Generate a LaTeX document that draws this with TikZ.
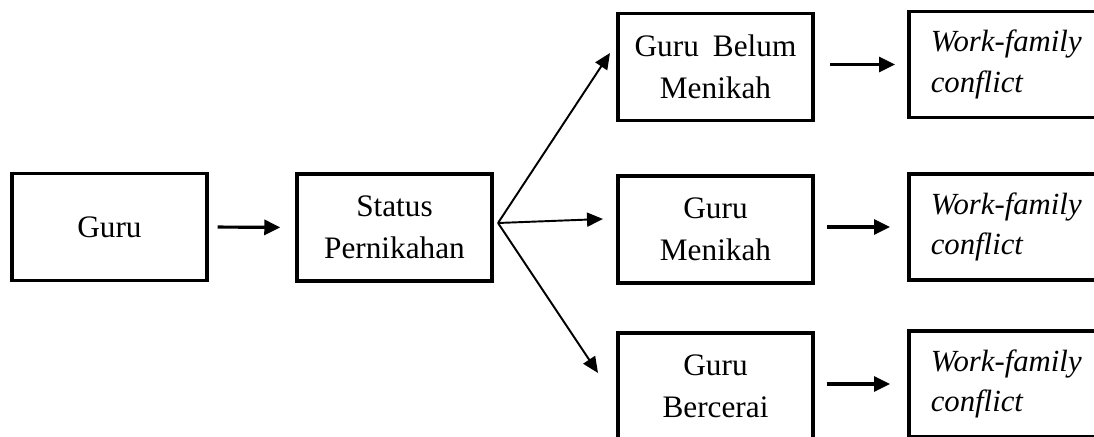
\documentclass[tikz,border=0pt]{standalone}
\usepackage{fontspec}
\setmainfont{Liberation Serif}
\usetikzlibrary{arrows.meta}
\tikzset{
  box/.style={draw,line width=2pt,minimum width=3.9cm,minimum height=2.14cm,align=center,inner sep=0pt},
  outbox/.style={draw,line width=2pt,anchor=west,text width=3.6cm,minimum height=2.12cm,align=left,inner xsep=0.44cm,font=\fontsize{17.5}{23}\selectfont\itshape},
  arr/.style={line width=1.8pt,-{Triangle[length=0.32cm,width=0.3cm]}},
  fanarr/.style={line width=1.1pt,-{Triangle[length=0.32cm,width=0.28cm]}}
}
\begin{document}
\begin{tikzpicture}[x=0.02cm,y=0.02cm,font=\fontsize{17.8}{24}\selectfont]
\path[use as bounding box] (0,0) rectangle (1094,436);
\clip (0,0) rectangle (1094,436);
%boxes
\node[box] (guru) at (109.5,209) {Guru};
\node[box] (status) at (394.5,208.5) {Status\\Pernikahan};
\node[box] (belum) at (715.5,369) {Guru\hspace{0.45em}Belum\\Menikah};
\node[box] (nikah) at (715.5,206.5) {Guru\\Menikah};
\node[box] (cerai) at (715.5,49.5) {Guru\\Bercerai};
\node[outbox] (wfc1) at (907,371.5) {Work-family\\conflict};
\node[outbox] (wfc2) at (907,209) {Work-family\\conflict};
\node[outbox] (wfc3) at (907,52) {Work-family\\conflict};
%arrows
\draw[arr,shorten <=0.18cm,shorten >=0.3cm] (guru.east) -- (status.west);
\coordinate (fan) at (498,213);
\coordinate (t1) at (610,383);
\coordinate (t2) at (603,217);
\coordinate (t3) at (598,63);
\draw[fanarr] (fan) -- (t1);
\draw[fanarr] (fan) -- (t2);
\draw[fanarr] (fan) -- (t3);
\draw[arr,shorten <=0.3cm,shorten >=0.24cm] (belum.east |- wfc1.west) -- (wfc1.west);
\draw[arr,shorten <=0.24cm,shorten >=0.34cm] (nikah.east |- wfc2.west) -- (wfc2.west);
\draw[arr,shorten <=0.24cm,shorten >=0.34cm] (cerai.east |- wfc3.west) -- (wfc3.west);
\end{tikzpicture}
\end{document}
